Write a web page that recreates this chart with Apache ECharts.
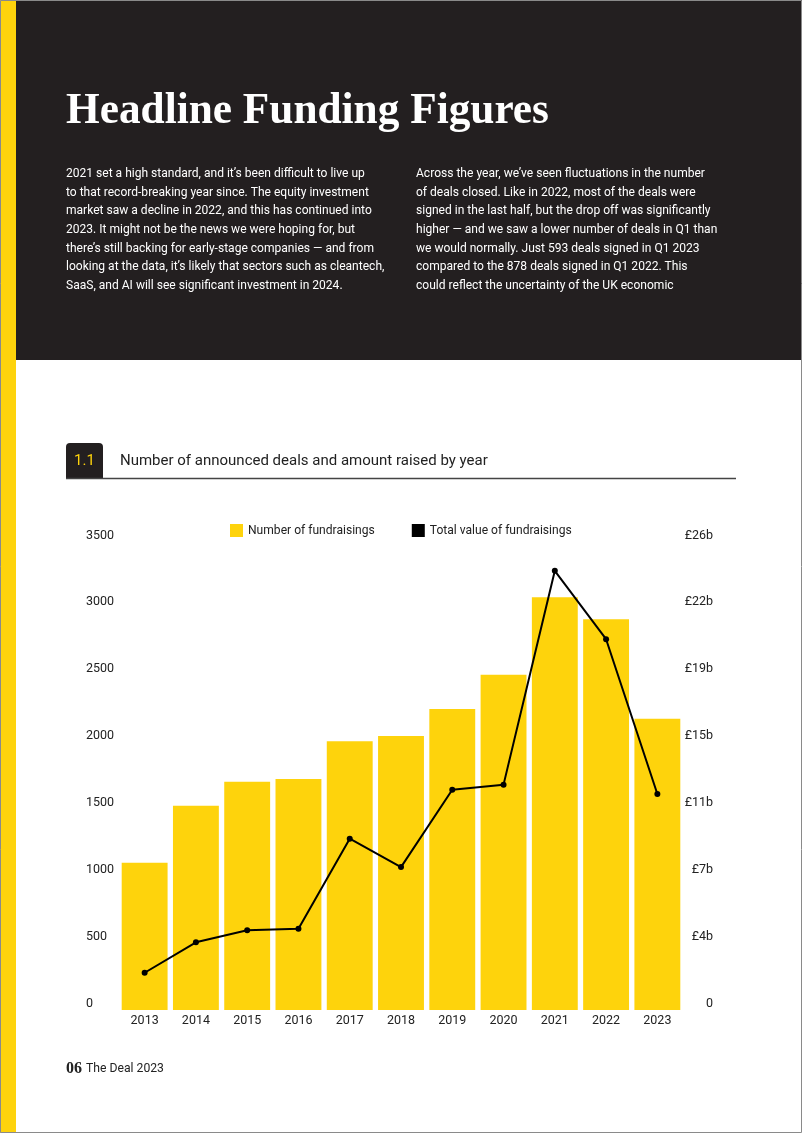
<!DOCTYPE html>
<html>
<head>
<meta charset="utf-8">
<script src="https://cdn.jsdelivr.net/npm/echarts@6/dist/echarts.min.js"></script>
<style>
html,body{margin:0;padding:0;background:#fff;}
#c{width:802px;height:1133px;}
</style>
</head>
<body>
<div id="c"></div>
<script>
// ---- data ----
const years = ['2013','2014','2015','2016','2017','2018','2019','2020','2021','2022','2023'];
const dealCounts = [1102, 1528, 1707, 1728, 2009, 2049, 2251, 2508, 3087, 2922, 2179];
const totalValueBn = [2.07, 3.76, 4.43, 4.52, 9.52, 7.94, 12.24, 12.52, 24.4, 20.6, 12.0];
const leftTickMax = 3500;
const leftTickStep = 500;
const rightTickLabels = ['0','£4b','£7b','£11b','£15b','£19b','£22b','£26b'];
const rightMax = 26;
const seriesNames = ['Number of fundraisings', 'Total value of fundraisings'];

const titleText = 'Headline Funding Figures';
const col1 = [
  '2021 set a high standard, and it\u2019s been difficult to live up',
  'to that record-breaking year since. The equity investment',
  'market saw a decline in 2022, and this has continued into',
  '2023. It might not be the news we were hoping for, but',
  'there\u2019s still backing for early-stage companies \u2014 and from',
  'looking at the data, it\u2019s likely that sectors such as cleantech,',
  'SaaS, and AI will see significant investment in 2024.'
];
const col2 = [
  'Across the year, we\u2019ve seen fluctuations in the number',
  'of deals closed. Like in 2022, most of the deals were',
  'signed in the last half, but the drop off was significantly',
  'higher \u2014 and we saw a lower number of deals in Q1 than',
  'we would normally. Just 593 deals signed in Q1 2023',
  'compared to the 878 deals signed in Q1 2022. This',
  'could reflect the uncertainty of the UK economic'
];
const chartNo = '1.1';
const chartTitle = 'Number of announced deals and amount raised by year';
const footNo = '06';
const footText = 'The Deal 2023';

// ---- styling ----
const YEL = '#FED30C';
const DARK = '#231F20';
const SANS = 'Roboto, "Noto Sans", sans-serif';
const SERIF = '"Liberation Serif", "DejaVu Serif", serif';

const mc = document.createElement('canvas').getContext('2d');
function fit(text, weight, family, target) {
  mc.font = weight + ' 100px ' + family;
  const w = mc.measureText(text).width;
  return 100 * target / w;
}
const titleSize = fit(titleText, 'bold', SERIF, 483);
const bodySize = fit(col1[0], 'normal', SANS, 299);
const headSize = fit(chartTitle, 'normal', SANS, 368);
const footSize = fit(footText, 'normal', SANS, 78);
const legendSize = fit(seriesNames[0], 'normal', SANS, 127);

const chart = echarts.init(document.getElementById('c'));
const option = {
  animation: false,
  backgroundColor: '#fff',
  textStyle: { fontFamily: SANS },
  graphic: [
    { type: 'rect', z: -10, shape: { x: 16, y: 0, width: 786, height: 360 }, style: { fill: DARK } },
    { type: 'rect', z: -10, shape: { x: 0, y: 0, width: 16, height: 1133 }, style: { fill: YEL } },
    { type: 'text', z: 5, style: { text: titleText, x: 66, y: 112, fill: '#fff',
        font: 'bold ' + titleSize.toFixed(2) + 'px ' + SERIF, verticalAlign: 'middle' } },
    { type: 'text', z: 5, style: { text: col1.join('\n'), x: 66, y: 164.7, fill: '#fff',
        font: bodySize.toFixed(2) + 'px ' + SANS, lineHeight: 18.67, verticalAlign: 'top' } },
    { type: 'text', z: 5, style: { text: col2.join('\n'), x: 416, y: 164.7, fill: '#fff',
        font: bodySize.toFixed(2) + 'px ' + SANS, lineHeight: 18.67, verticalAlign: 'top' } },
    { type: 'rect', z: 5, shape: { x: 66, y: 443, width: 37, height: 36, r: [4,4,0,0] }, style: { fill: DARK } },
    { type: 'text', z: 6, style: { text: chartNo, x: 84.5, y: 461.5, fill: YEL,
        font: '15px ' + SANS, align: 'center', verticalAlign: 'middle' } },
    { type: 'text', z: 5, style: { text: chartTitle, x: 120, y: 461.5, fill: '#222',
        font: headSize.toFixed(2) + 'px ' + SANS, verticalAlign: 'middle' } },
    { type: 'line', z: 5, shape: { x1: 66, y1: 478.5, x2: 736, y2: 478.5 }, style: { stroke: '#444', lineWidth: 1.5 } },
    { type: 'text', z: 5, style: { text: footNo, x: 66, y: 1069, fill: '#222',
        font: 'bold 16px ' + SERIF, verticalAlign: 'middle' } },
    { type: 'text', z: 5, style: { text: footText, x: 86, y: 1069, fill: '#222',
        font: footSize.toFixed(2) + 'px ' + SANS, verticalAlign: 'middle' } },
    { type: 'rect', z: 20, shape: { x: 0.5, y: 0.5, width: 801, height: 1132 }, style: { fill: 'none', stroke: '#8a8a8a', lineWidth: 1 } }
  ],
  legend: {
    left: 230, top: 524, padding: 0,
    itemWidth: 13, itemHeight: 13, itemGap: 37,
    textStyle: { color: '#222', fontSize: legendSize, fontFamily: SANS },
    data: [
      { name: seriesNames[0], icon: 'rect', itemStyle: { color: YEL } },
      { name: seriesNames[1], icon: 'rect', itemStyle: { color: '#000' } }
    ]
  },
  grid: { left: 119, right: 119, top: 542, bottom: 123 },
  xAxis: {
    type: 'category', data: years,
    axisLine: { show: false }, axisTick: { show: false },
    axisLabel: { color: '#222', fontSize: 12.5, margin: 4 }
  },
  yAxis: [
    {
      type: 'value', min: 0, max: leftTickMax, interval: leftTickStep,
      splitLine: { show: false }, axisLine: { show: false }, axisTick: { show: false },
      axisLabel: { color: '#222', fontSize: 12.5, align: 'left', margin: 33, verticalAlign: 'bottom',
        formatter: function (v) { return String(v); } }
    },
    {
      type: 'value', min: 0, max: rightMax, interval: rightMax / (rightTickLabels.length - 1),
      splitLine: { show: false }, axisLine: { show: false }, axisTick: { show: false },
      axisLabel: { color: '#222', fontSize: 12.5, align: 'right', margin: 30, verticalAlign: 'bottom',
        formatter: function (v) { return rightTickLabels[Math.round(v / (rightMax / (rightTickLabels.length - 1)))]; } }
    }
  ],
  series: [
    { name: seriesNames[0], type: 'bar', data: dealCounts, yAxisIndex: 0,
      barCategoryGap: '10.5%', itemStyle: { color: YEL } },
    { name: seriesNames[1], type: 'line', data: totalValueBn, yAxisIndex: 1,
      symbol: 'circle', symbolSize: 6, lineStyle: { color: '#000', width: 2 }, itemStyle: { color: '#000' } }
  ]
};
chart.setOption(option);
</script>
</body>
</html>
